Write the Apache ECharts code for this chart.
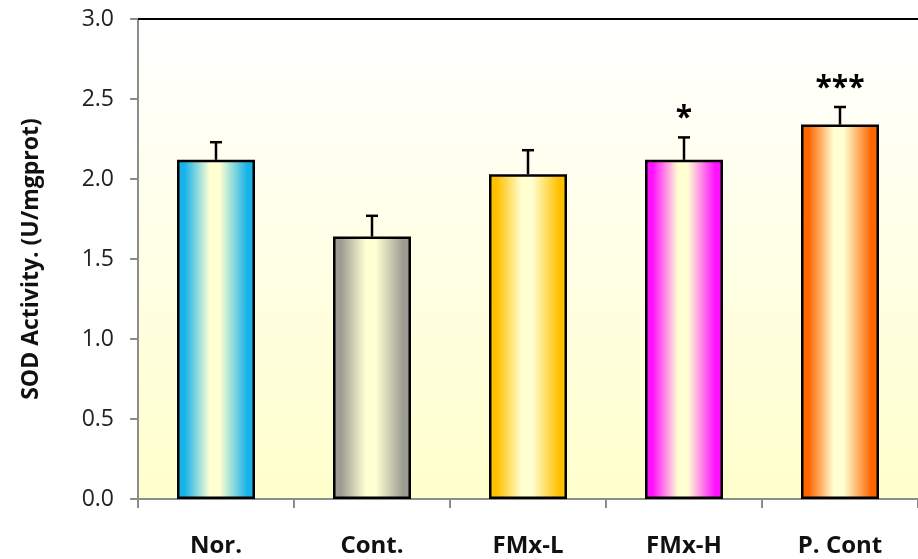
<!DOCTYPE html>
<html>
<head>
<meta charset="utf-8">
<script src="https://cdn.jsdelivr.net/npm/echarts@6/dist/echarts.min.js"></script>
<style>
  html, body { margin: 0; padding: 0; background: #ffffff; }
  #chart { width: 918px; height: 559px; }
</style>
</head>
<body>
<div id="chart"></div>
<script>
// Group names on the x axis
const categories = ['Nor.', 'Cont.', 'FMx-L', 'FMx-H', 'P. Cont'];
// Mean SOD activity (U/mgprot) per group
const means = [2.12, 1.64, 2.03, 2.12, 2.34];
// Upper error (SD) per group
const errors = [0.11, 0.13, 0.15, 0.14, 0.11];
// Significance markers shown above each group
const marks = ['', '', '', '*', '***'];
// Edge colour of each bar's cylinder shading
const barColors = ['#17B2E8', '#9C9C92', '#FFC000', '#FF10FF', '#FF6600'];
// Y axis ticks
const yTicks = [0, 0.5, 1.0, 1.5, 2.0, 2.5, 3.0];

const LIGHT = '#FFFFD2';

function cylinder(c) {
  return {
    type: 'linear', x: 0, y: 0, x2: 1, y2: 0,
    colorStops: [
      { offset: 0, color: c },
      { offset: 0.1, color: c },
      { offset: 0.42, color: LIGHT },
      { offset: 0.55, color: LIGHT },
      { offset: 0.9, color: c },
      { offset: 1, color: c }
    ]
  };
}

const chart = echarts.init(document.getElementById('chart'), null, { renderer: 'canvas' });

const fontFamily = '"Open Sans", "Liberation Sans", sans-serif';

chart.setOption({
  animation: false,
  grid: {
    left: 138, top: 19, bottom: 60, right: -5,
    show: true,
    borderWidth: 0,
    backgroundColor: {
      type: 'linear', x: 0, y: 0, x2: 0, y2: 1,
      colorStops: [
        { offset: 0, color: '#FFFFFF' },
        { offset: 1, color: '#FFFFCC' }
      ]
    }
  },
  xAxis: [{
    type: 'category',
    data: categories,
    boundaryGap: true,
    axisLine: { show: true, lineStyle: { color: '#8C8C8C', width: 2 } },
    axisTick: { show: true, alignWithLabel: false, length: 9, lineStyle: { color: '#8C8C8C', width: 2 } },
    axisLabel: {
      margin: 35,
      fontSize: 24,
      fontWeight: 'bold',
      color: '#111',
      fontFamily: fontFamily
    }
  }, {
    type: 'category',
    data: categories,
    position: 'top',
    axisLine: { show: true, lineStyle: { color: '#000', width: 2 } },
    axisTick: { show: false },
    axisLabel: { show: false }
  }],
  yAxis: {
    type: 'value',
    min: yTicks[0],
    max: yTicks[yTicks.length - 1],
    interval: 0.5,
    name: 'SOD Activity. (U/mgprot)',
    nameLocation: 'middle',
    nameRotate: 90,
    nameGap: 95,
    nameTextStyle: { fontSize: 23, fontWeight: 'bold', color: '#111', fontFamily: fontFamily },
    axisLine: { show: true, lineStyle: { color: '#8C8C8C', width: 2 } },
    axisTick: { show: true, length: 8, lineStyle: { color: '#8C8C8C', width: 2 } },
    splitLine: { show: false },
    axisLabel: {
      margin: 24,
      fontSize: 23,
      color: '#222',
      fontFamily: fontFamily,
      formatter: v => v.toFixed(1)
    }
  },
  series: [{
    type: 'bar',
    barWidth: '50%',
    data: means.map((v, i) => ({
      value: v,
      itemStyle: { color: cylinder(barColors[i]), borderColor: '#000', borderWidth: 2.5 }
    })),
    z: 2
  }, {
    type: 'custom',
    z: 3,
    data: means.map((m, i) => [i, m, m + errors[i], marks[i]]),
    renderItem: function (params, api) {
      const i = api.value(0);
      const base = api.coord([i, api.value(1)]);
      const top = api.coord([i, api.value(2)]);
      const half = 6;
      const children = [{
        type: 'line',
        shape: { x1: base[0], y1: base[1], x2: top[0], y2: top[1] },
        style: { stroke: '#000', lineWidth: 2.5 }
      }, {
        type: 'line',
        shape: { x1: top[0] - half, y1: top[1], x2: top[0] + half, y2: top[1] },
        style: { stroke: '#000', lineWidth: 2.5 }
      }];
      const mark = marks[params.dataIndex];
      if (mark) {
        children.push({
          type: 'text',
          style: {
            text: mark,
            x: top[0],
            y: top[1] - 4,
            align: 'center',
            verticalAlign: 'bottom',
            font: 'bold 30px ' + fontFamily,
            fill: '#000'
          }
        });
      }
      return { type: 'group', children: children };
    }
  }]
});
</script>
</body>
</html>
